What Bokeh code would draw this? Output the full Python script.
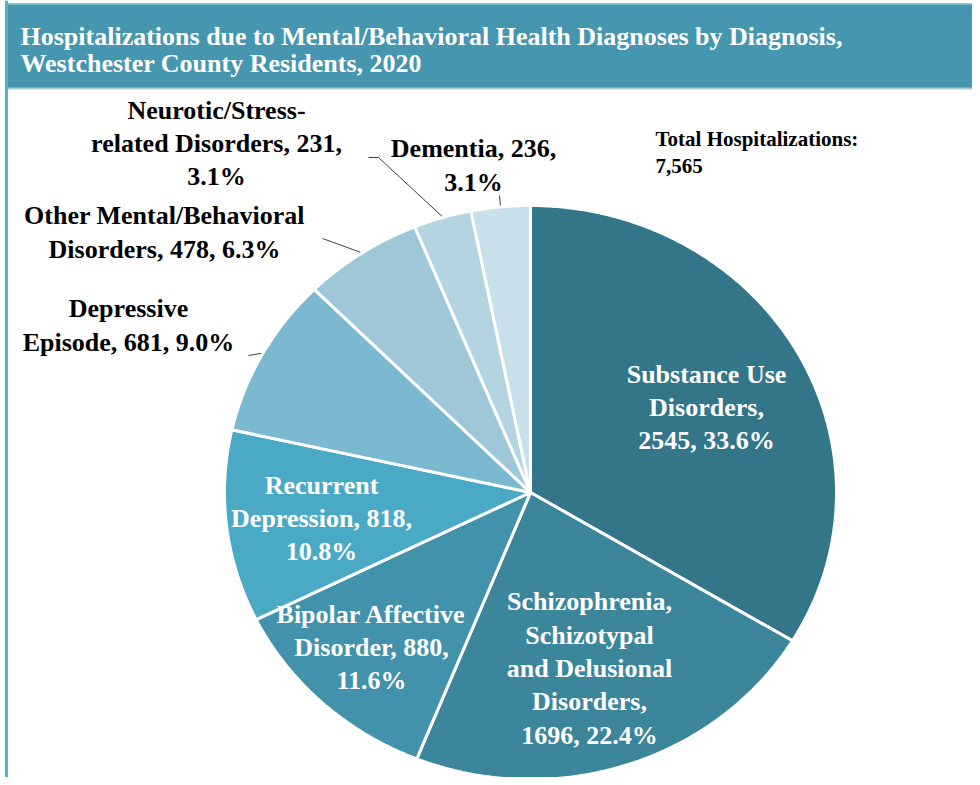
import math
from bokeh.plotting import figure
from bokeh.models import ColumnDataSource
from bokeh.core.properties import value
from bokeh.embed import file_html
from bokeh.resources import INLINE

# ---------------- data ----------------
title_lines = ["Hospitalizations  due to Mental/Behavioral Health Diagnoses by Diagnosis,",
               "Westchester County Residents, 2020"]
categories = ["Substance Use Disorders",
              "Schizophrenia, Schizotypal and Delusional Disorders",
              "Bipolar Affective Disorder",
              "Recurrent Depression",
              "Depressive Episode",
              "Other Mental/Behavioral Disorders",
              "Neurotic/Stress-related Disorders",
              "Dementia"]
counts = [2545, 1696, 880, 818, 681, 478, 231, 236]
percents = ["33.6%", "22.4%", "11.6%", "10.8%", "9.0%", "6.3%", "3.1%", "3.1%"]
label_texts = ["Substance Use\nDisorders,\n2545, 33.6%",
               "Schizophrenia,\nSchizotypal\nand Delusional\nDisorders,\n1696, 22.4%",
               "Bipolar Affective\nDisorder, 880,\n11.6%",
               "Recurrent\nDepression, 818,\n10.8%",
               "Depressive\nEpisode, 681, 9.0%",
               "Other Mental/Behavioral\nDisorders, 478, 6.3%",
               "Neurotic/Stress-\nrelated Disorders, 231,\n3.1%",
               "Dementia, 236,\n3.1%"]
total_text = "Total Hospitalizations:\n7,565"
colors = ["#337589", "#3b869b", "#4292ab", "#4aaac5",
          "#7bb9d0", "#9ec8d8", "#b4d4e1", "#c9dfe9"]
inside = [True, True, True, True, False, False, False, False]

# ---------------- layout ----------------
W, H = 972, 777
CX, CY, RX, RY = 530, 492, 306, 287
FONT = "Liberation Serif"

p = figure(width=W, height=H, x_range=(0, W), y_range=(H, 0),
           output_backend="svg", toolbar_location=None, min_border=0)
p.axis.visible = False
p.grid.visible = False
p.outline_line_color = None
p.background_fill_color = "white"

# frame and title bar
p.quad(left=7, right=W, top=3, bottom=88, fill_color="#4596ae", line_color=None)
p.segment(x0=7, y0=3.5, x1=W, y1=3.5, line_color="#86c3d3", line_width=1.5)
p.segment(x0=7, y0=88, x1=W, y1=88, line_color="#a9cdd8", line_width=2)
p.segment(x0=6, y0=0, x1=6, y1=H, line_color="#4db5cd", line_width=3)
p.text(x=[20, 20], y=[36, 63], text=title_lines, text_color="white",
       text_font=value(FONT), text_font_style="bold", text_font_size="26px",
       text_baseline="middle", text_align="left")


def pt(theta_deg, f=1.0):
    t = math.radians(theta_deg)
    return CX + f * RX * math.sin(t), CY - f * RY * math.cos(t)

total = sum(counts)
xs, ys, mids = [], [], []
cum = 0
for c in counts:
    a0 = 360.0 * cum / total
    a1 = 360.0 * (cum + c) / total
    n = max(4, int((a1 - a0) / 0.5))
    px, py = [CX], [CY]
    for i in range(n + 1):
        x, y = pt(a0 + (a1 - a0) * i / n)
        px.append(x)
        py.append(y)
    xs.append(px)
    ys.append(py)
    mids.append((a0 + a1) / 2)
    cum += c

p.patches(xs=xs, ys=ys, fill_color=colors, line_color="white", line_width=3)

# label positions (layout)
label_pos = [(706, 407), (589, 668), (371, 647), (321, 518),
             (128, 325), (164, 232), (216, 143), (473, 165)]
lab = ColumnDataSource(dict(
    x=[q[0] for q in label_pos], y=[q[1] for q in label_pos], text=label_texts,
    color=["white" if i else "black" for i in inside]))
p.text(x="x", y="y", text="text", source=lab, text_color="color",
       text_font=value(FONT), text_font_style="bold", text_font_size="26px",
       text_align="center", text_baseline="middle", text_line_height=1.15)

# leader lines from slice edges outward
leader_bends = {4: [(248, 355)], 5: [(322, 238)], 6: [(378, 157), (368, 157)], 7: [(499, 195)]}
lx, ly = [], []
for i, bends in leader_bends.items():
    x0, y0 = pt(mids[i], 1.005)
    lx.append([x0] + [b[0] for b in bends])
    ly.append([y0] + [b[1] for b in bends])
p.multi_line(xs=lx, ys=ly, line_color="#404040", line_width=1)

p.text(x=[655], y=[152], text=[total_text], text_color="black",
       text_font=value(FONT), text_font_style="bold", text_font_size="21px",
       text_align="left", text_baseline="middle", text_line_height=1.15)

open("out.html", "w").write(file_html(p, INLINE))
